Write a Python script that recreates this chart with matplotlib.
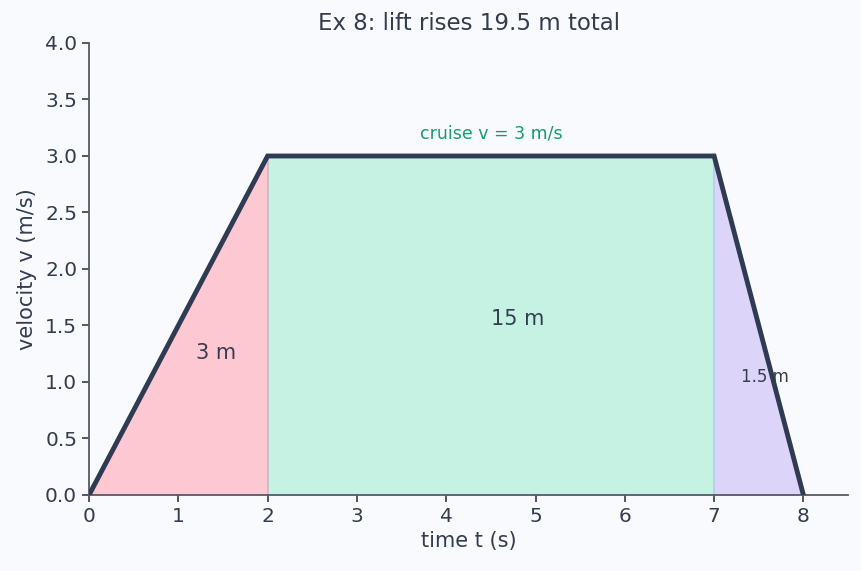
import matplotlib.pyplot as plt

# data
t_pts = [0, 2, 7, 8]
v_pts = [0, 3, 3, 0]
phases = [([0, 2], [0, 3], "#fec8d3"), ([2, 7], [3, 3], "#c6f2e3"), ([7, 8], [3, 0], "#ddd4fa")]
area_labels = ["3 m", "15 m", "1.5 m"]
label_pos = [(1.2, 1.2), (4.5, 1.5), (7.3, 1.0)]
label_sizes = [15, 15, 12]

ink = "#333d4f"
bg = "#f9fafd"

fig = plt.figure(figsize=(8.62, 5.71), dpi=100, facecolor=bg)
ax = fig.add_axes([0.1033, 0.1331, 0.8805, 0.7916], facecolor=bg)

for (xs, ys, col) in phases:
    ax.fill_between(xs, [0, 0], ys, color=col, linewidth=0)
ax.axvline(2, ymax=3 / 4, color="#c9b8c0", lw=1.2)
ax.axvline(7, ymax=3 / 4, color="#b5c8ec", lw=1.2)

ax.plot(t_pts, v_pts, color="#2f3b52", lw=3.5, solid_joinstyle="miter", zorder=5)

for txt, (x, y), fs in zip(area_labels, label_pos, label_sizes):
    ax.text(x, y, txt, ha="left", va="baseline", fontsize=fs, color=ink, zorder=6)

ax.text(4.5, 3.2, "cruise v = 3 m/s", ha="center", va="center", fontsize=12.5, color="#149c6c")

ax.set_xlim(0, 8.5)
ax.set_ylim(0, 4)
ax.set_xticks(range(0, 9))
ax.set_yticks([0, 0.5, 1, 1.5, 2, 2.5, 3, 3.5, 4])
ax.set_yticklabels(["0.0", "0.5", "1.0", "1.5", "2.0", "2.5", "3.0", "3.5", "4.0"])
ax.set_title("Ex 8: lift rises 19.5 m total", fontsize=16.5, color=ink, pad=9)
ax.set_xlabel("time t (s)", fontsize=15, color=ink, labelpad=4)
ax.set_ylabel("velocity v (m/s)", fontsize=15, color=ink, labelpad=6)
ax.tick_params(colors=ink, labelsize=14.5, length=5, width=1.2)
for s in ["top", "right"]:
    ax.spines[s].set_visible(False)
for s in ["left", "bottom"]:
    ax.spines[s].set_color("#555b66")
    ax.spines[s].set_linewidth(1.3)

fig.savefig("out.png", dpi=100, facecolor=bg)
